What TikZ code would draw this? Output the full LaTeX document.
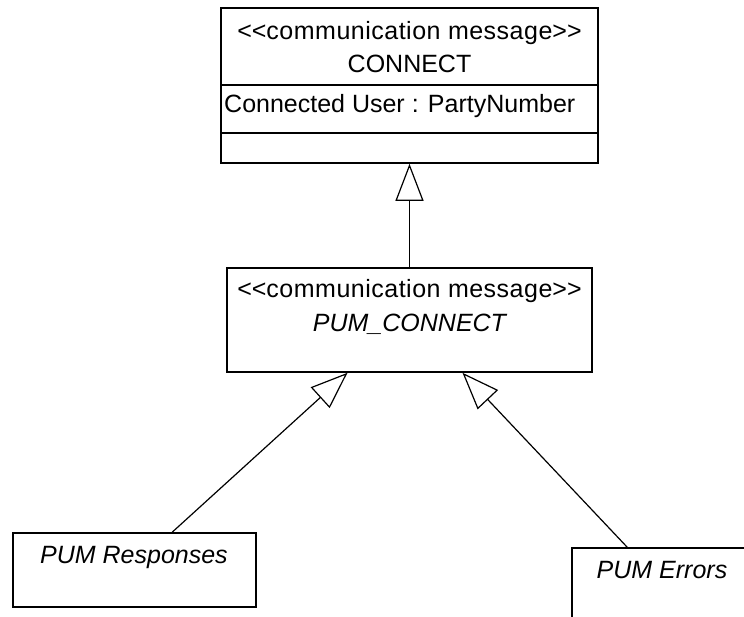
\documentclass[tikz,border=0pt]{standalone}
\usepackage{fontspec}
\setmainfont{Liberation Sans}
\usetikzlibrary{arrows.meta,calc}

\begin{document}
\begin{tikzpicture}[x=1pt,y=-1pt,every node/.style={font=\fontsize{25}{29}\selectfont, inner sep=0pt},
  umlbox/.style={draw, line width=1.6pt},
  gen/.style={line width=1.2pt, -{Triangle[open, length=37pt, width=28pt, line width=1.2pt]}}]
              \useasboundingbox (0,0) rectangle (744,617);
              \clip (0,0) rectangle (744,617);

              \node[umlbox, minimum width=377pt, minimum height=155pt] (connect) at (409.5,85.5) {};
              \draw[line width=1.6pt] (221,85) -- (598,85);
              \draw[line width=1.6pt] (221,133) -- (598,133);
              \node (st1) at (409.5,33) {\addfontfeatures{LetterSpace=2}\hbox{<}\hbox{<}communication message\hbox{>}\hbox{>}};
              \node (n1) at (409.5,64) {CONNECT};
              \node[anchor=west] (attr) at (224,106) {Connected User : PartyNumber};

              \node[umlbox, minimum width=365pt, minimum height=104pt] (pum) at (409.5,320) {};
              \node (st2) at (409.5,291) {\addfontfeatures{LetterSpace=2}\hbox{<}\hbox{<}communication message\hbox{>}\hbox{>}};
              \node (n2) at (409.5,324) {\itshape PUM\_CONNECT};

              \node[umlbox, minimum width=243pt, minimum height=74pt] (resp) at (134.5,570) {};
              \node (n3) at (134,557) {\itshape PUM Responses};
              \node[umlbox, minimum width=240pt, minimum height=120pt] (err) at (692,608) {};
              \node (n4) at (662,570) {\itshape PUM Errors};

              \draw[gen] (pum.north) -- (connect.south);
              \draw[gen] ($(resp.north west)+(160,0)$) -- ($(pum.south)+(-62,0)$);
              \draw[gen] ($(err.north west)+(56,0)$) -- ($(pum.south)+(53,0)$);
            \end{tikzpicture}
\end{document}
